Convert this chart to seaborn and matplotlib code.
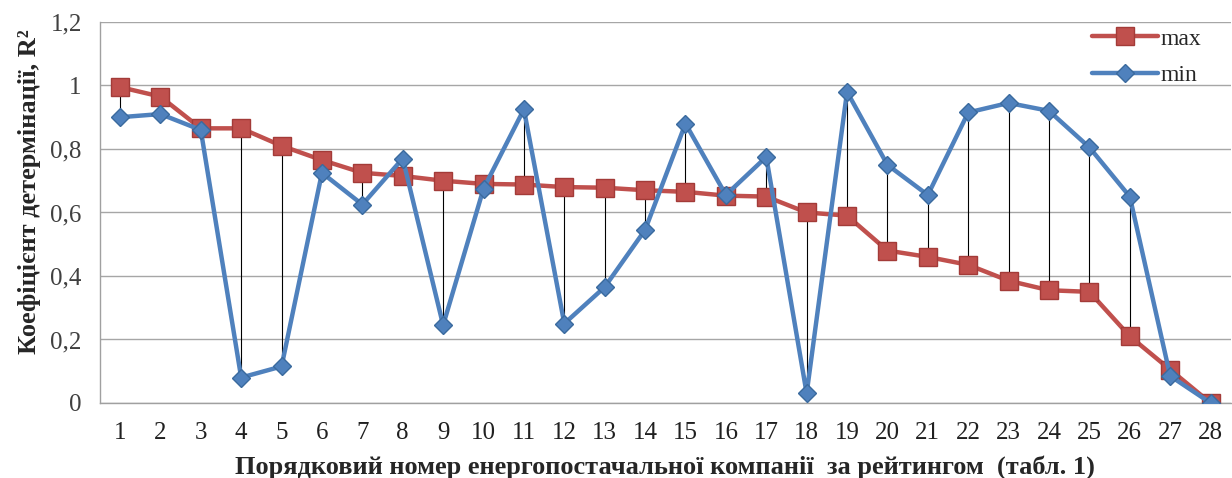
import numpy as np
import pandas as pd
import matplotlib
matplotlib.use("Agg")
import matplotlib.pyplot as plt
import seaborn as sns

# Дані
companies = list(range(1, 29))
r2_max = [0.995, 0.965, 0.865, 0.865, 0.81, 0.765, 0.725, 0.715, 0.70, 0.69,
          0.688, 0.68, 0.678, 0.67, 0.665, 0.653, 0.65, 0.60, 0.59, 0.48,
          0.46, 0.435, 0.385, 0.355, 0.35, 0.21, 0.105, 0.0]
r2_min = [0.90, 0.91, 0.86, 0.08, 0.115, 0.725, 0.625, 0.77, 0.245, 0.675,
          0.925, 0.25, 0.365, 0.545, 0.88, 0.655, 0.775, 0.03, 0.98, 0.75,
          0.655, 0.915, 0.945, 0.92, 0.805, 0.65, 0.085, 0.0]
y_ticks = [0, 0.2, 0.4, 0.6, 0.8, 1.0, 1.2]
y_tick_labels = ["0", "0,2", "0,4", "0,6", "0,8", "1", "1,2"]

df = pd.DataFrame({"n": companies, "max": r2_max, "min": r2_min})

sns.set_style("white")
plt.rcParams["font.family"] = ["Liberation Serif", "DejaVu Serif"]

fig = plt.figure(figsize=(12.32, 4.78), dpi=100)
ax = fig.add_axes([0.081, 0.157, 0.918, 0.797])

red = "#C0504D"
blue = "#4F81BD"

# вертикальні лінії між max і min
ax.vlines(df["n"], df["min"], df["max"], color="black", linewidth=0.8, zorder=2)

sns.lineplot(data=df, x="n", y="max", ax=ax, color=red, linewidth=3.2,
             marker="s", markersize=13, markeredgecolor="#A33B38",
             markeredgewidth=1, label="max", zorder=3)
sns.lineplot(data=df, x="n", y="min", ax=ax, color=blue, linewidth=3.2,
             marker="D", markersize=9.5, markeredgecolor="#3A6A9E",
             markeredgewidth=1, label="min", zorder=4)

ax.set_xlim(0.5, 28.5)
ax.set_ylim(0, 1.2)
ax.set_xticks(companies)
ax.set_xticklabels([str(c) for c in companies], fontsize=18)
ax.set_yticks(y_ticks)
ax.set_yticklabels(y_tick_labels, fontsize=18, color="#404040")
ax.tick_params(axis="x", length=0, pad=14, colors="#202020")
ax.tick_params(axis="y", length=8, color="#A0A0A0", pad=5)
ax.yaxis.grid(True, color="#A6A6A6", linewidth=1)
ax.set_axisbelow(True)

for side in ["top", "right"]:
    ax.spines[side].set_visible(False)
for side in ["left", "bottom"]:
    ax.spines[side].set_color("#A0A0A0")
    ax.spines[side].set_linewidth(1)

ax.set_ylabel("Коефіцієнт детермінації, R²", fontsize=19, fontweight="bold")
ax.yaxis.set_label_coords(-0.052, 0.555)
ax.set_xlabel("Порядковий номер енергопостачальної компанії  за рейтингом  (табл. 1)",
              fontsize=19, fontweight="bold", labelpad=8)

leg = ax.legend(loc="upper right", bbox_to_anchor=(0.993, 1.04), frameon=False,
                fontsize=17, handlelength=2.8, handletextpad=0.1, labelspacing=0.65)

fig.savefig("out.png", dpi=100)
